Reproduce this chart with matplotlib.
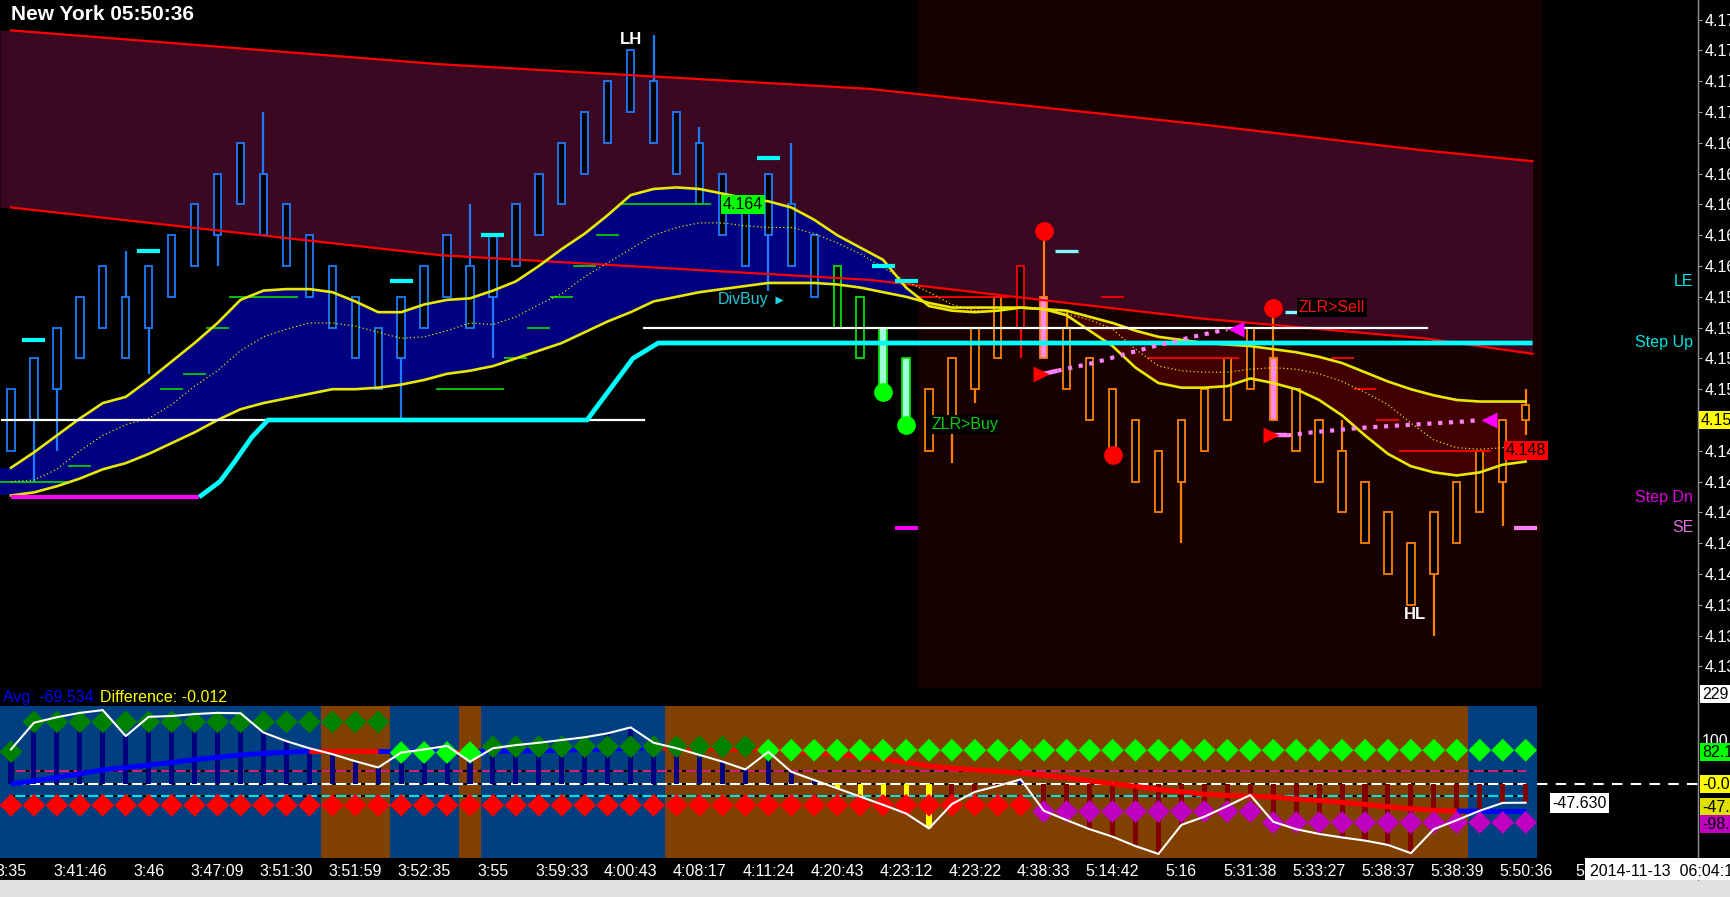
"""
Range-bar chart with trend envelope, channel and oscillator panel (New York session).
"""
import matplotlib
matplotlib.use("Agg")
import matplotlib.pyplot as plt
from matplotlib.lines import Line2D
from matplotlib.patches import Rectangle
import numpy as np

plt.rcParams['font.family'] = ['Liberation Sans', 'DejaVu Sans']

W, H, DPI = 1730, 897, 100

# ---------------- price bars (body top / bottom) ----------------
body_hi = [4.152, 4.154, 4.156, 4.158, 4.160, 4.158, 4.160, 4.162, 4.164, 4.166,
           4.168, 4.166, 4.164, 4.162, 4.160, 4.158, 4.156, 4.158, 4.160, 4.162,
           4.160, 4.162, 4.164, 4.166, 4.168, 4.170, 4.172, 4.174, 4.172, 4.170,
           4.168, 4.166, 4.164, 4.166, 4.164, 4.162, 4.160, 4.158, 4.156, 4.154,
           4.152, 4.154, 4.156, 4.158, 4.160, 4.158, 4.156, 4.154, 4.152, 4.150,
           4.148, 4.150, 4.152, 4.154, 4.156, 4.154, 4.152, 4.150, 4.148, 4.146,
           4.144, 4.142, 4.144, 4.146, 4.148, 4.150, 4.151]
body_lo = [4.148, 4.150, 4.152, 4.154, 4.156, 4.154, 4.156, 4.158, 4.160, 4.162,
           4.164, 4.162, 4.160, 4.158, 4.156, 4.154, 4.152, 4.154, 4.156, 4.158,
           4.156, 4.158, 4.160, 4.162, 4.164, 4.166, 4.168, 4.170, 4.168, 4.166,
           4.164, 4.162, 4.160, 4.162, 4.160, 4.158, 4.156, 4.154, 4.152, 4.150,
           4.148, 4.150, 4.152, 4.154, 4.156, 4.154, 4.152, 4.150, 4.148, 4.146,
           4.144, 4.146, 4.148, 4.150, 4.152, 4.150, 4.148, 4.146, 4.144, 4.142,
           4.140, 4.138, 4.140, 4.142, 4.144, 4.146, 4.150]
wick_up = {5: 4.161, 11: 4.170, 20: 4.164, 28: 4.175, 30: 4.169, 34: 4.168,
           45: 4.1623, 46: 4.157, 55: 4.1573, 58: 4.150, 66: 4.152}
wick_dn = {1: 4.146, 2: 4.148, 6: 4.153, 9: 4.160, 17: 4.150, 21: 4.154, 33: 4.1584,
           41: 4.1472, 42: 4.1511, 44: 4.154, 51: 4.142, 62: 4.136, 65: 4.1431, 66: 4.149}

# ---------------- trend envelope ----------------
fast_ma = [4.1469, 4.1479, 4.1490, 4.1501, 4.1511, 4.1515, 4.1526, 4.1538, 4.1550, 4.1563,
           4.1578, 4.1584, 4.1585, 4.1585, 4.1583, 4.1577, 4.1570, 4.1570, 4.1575, 4.1578,
           4.1579, 4.1584, 4.1590, 4.1600, 4.1611, 4.1621, 4.1633, 4.1646, 4.1650, 4.1651,
           4.1650, 4.1647, 4.1644, 4.1642, 4.1638, 4.1630, 4.1620, 4.1612, 4.1604, 4.1586,
           4.1574, 4.1571, 4.1570, 4.1571, 4.1573, 4.1572, 4.1568, 4.1558, 4.1548, 4.1534,
           4.1524, 4.1521, 4.1521, 4.1522, 4.1527, 4.1524, 4.1520, 4.1513, 4.1503, 4.1490,
           4.1478, 4.1470, 4.1466, 4.1464, 4.1466, 4.1471, 4.1473]
slow_ma = [4.1451, 4.1453, 4.1457, 4.1462, 4.1468, 4.1472, 4.1478, 4.1485, 4.1492, 4.1500,
           4.1507, 4.1511, 4.1514, 4.1517, 4.1520, 4.1520, 4.1521, 4.1523, 4.1526, 4.1530,
           4.1532, 4.1535, 4.1540, 4.1545, 4.1550, 4.1557, 4.1564, 4.1570, 4.1577, 4.1580,
           4.1583, 4.1585, 4.1587, 4.1589, 4.1589, 4.1589, 4.1588, 4.1586, 4.1583, 4.1580,
           4.1576, 4.1573, 4.1573, 4.1573, 4.1573, 4.1572, 4.1571, 4.1567, 4.1563, 4.1558,
           4.1554, 4.1552, 4.1550, 4.1549, 4.1548, 4.1546, 4.1544, 4.1541, 4.1537, 4.1531,
           4.1525, 4.1520, 4.1516, 4.1513, 4.1512, 4.1512, 4.1512]
mid_ma = [4.1460, 4.1461, 4.1468, 4.1480, 4.1490, 4.1497, 4.1501, 4.1510, 4.1522, 4.1532,
          4.1545, 4.1554, 4.1559, 4.1563, 4.1563, 4.1561, 4.1557, 4.1553, 4.1554, 4.1558,
          4.1563, 4.1562, 4.1567, 4.1575, 4.1582, 4.1593, 4.1602, 4.1611, 4.1620, 4.1625,
          4.1628, 4.1628, 4.1626, 4.1625, 4.1625, 4.1621, 4.1615, 4.1608, 4.1599, 4.1590,
          4.1583, 4.1575, 4.1571, 4.1571, 4.1573, 4.1572, 4.1569, 4.1565, 4.1559, 4.1546,
          4.1535, 4.1532, 4.1531, 4.1531, 4.1533, 4.1534, 4.1533, 4.1530, 4.1525, 4.1518,
          4.1510, 4.1498, 4.1487, 4.1482, 4.1481, 4.1482, 4.1485]

# regression channel
chan_x = [0, 18.7, 37.4, 51.8, 61.6, 66.3]
chan_top = [4.1753, 4.1731, 4.1715, 4.1692, 4.1675, 4.1668]
chan_bot = [4.1638, 4.1607, 4.1591, 4.1566, 4.1553, 4.1543]

# step lines
step_dn_x = [0, 8.2]
step_dn_y = [4.145, 4.145]
step_up_x = [8.2, 9.1, 9.7, 10.5, 11.2, 25.1, 27.1, 28.2, 66.3]
step_up_y = [4.145, 4.146, 4.1472, 4.1489, 4.150, 4.150, 4.154, 4.155, 4.155]
white_lvl_x = [[-0.4, 27.6], [27.6, 61.7]]
white_lvl_y = [4.150, 4.156]

# trailing stop segments (first bar, last bar, price)
green_trail = [(0, 2, 4.146), (3, 3, 4.147), (7, 7, 4.152), (8, 8, 4.153), (9, 9, 4.156),
               (10, 12, 4.158), (19, 21, 4.152), (22, 22, 4.154), (23, 23, 4.156),
               (24, 24, 4.158), (25, 25, 4.160), (26, 26, 4.162), (27, 30, 4.164)]
red_trail = [(40, 43, 4.158), (48, 48, 4.158), (50, 53, 4.154), (58, 58, 4.154),
             (59, 59, 4.152), (60, 60, 4.150), (61, 64, 4.148)]

# entry markers
le_bars = [1, 6, 17, 21, 33, 38, 39]
le_price = [4.1552, 4.1610, 4.1590, 4.1620, 4.1670, 4.1600, 4.1590]
le2_bars = [46, 56]
le2_price = [4.1610, 4.1570]
red_dot_bars = [45, 48, 55]
red_dot_price = [4.1623, 4.1477, 4.1573]
green_dot_bars = [38, 39]
green_dot_price = [4.1518, 4.1497]

# ZLR projections
zlr1_x = [45.0, 45.6, 47.15, 48.6, 50.1, 51.5, 53.0]
zlr1_y = [4.1530, 4.1532, 4.1537, 4.1543, 4.1549, 4.1554, 4.1559]
zlr2_x = [55.0, 55.6, 56.7, 58.9, 61.1, 63.3, 64.0]
zlr2_y = [4.1490, 4.1490, 4.1492, 4.1495, 4.1497, 4.1499, 4.1500]

# ---------------- oscillator panel ----------------
osc = [88, 156, 170, 181, 188, 122, 171, 173, 178, 181,
       180, 131, 109, 91, 76, 58, 42, 80, 88, 97,
       57, 91, 99, 105, 112, 119, 129, 144, 105, 91,
       74, 57, 37, 82, 31, 10, -11, -32, -53, -75,
       -113, -51, -20, -5, 12, -68, -92, -115, -134, -158,
       -178, -104, -83, -56, -28, -96, -115, -127, -136, -144,
       -155, -176, -115, -92, -68, -48, -47.6]
osc_avg = [0, 8, 17, 26, 36, 42, 48, 55, 62, 68,
           74, 78, 81, 83, 83, 83, 83, 83, 83, 82,
           82, 83, 84, 85, 86, 88, 89, 91, 92, 91,
           91, 89, 88, 87, 84, 80, 76, 70, 64, 55,
           46, 40, 36, 32, 28, 22, 16, 8, 1, -6,
           -14, -20, -26, -29, -31, -33, -38, -42, -47, -52,
           -58, -63, -67, -69, -69.5, -69.5, -69.5]
regime = [1] * 14 + [0] * 3 + [1] * 3 + [0] + [1] * 8 + [0] * 35 + [1] * 3
top_diamond = [82] + [158] * 16 + [80] * 4 + [95] * 12 + [86] * 34
top_diamond_bright = [0] * 17 + [1] * 4 + [0] * 12 + [1] * 34
low_diamond = [-54] * 45 + [-70] * 10 + [-98] * 12
low_diamond_magenta = [0] * 45 + [1] * 22
ref_levels = [33, 0, -31]

time_bars = list(range(0, 67, 3))
time_labels = ['3:35', '3:41:46', '3:46', '3:47:09', '3:51:30', '3:51:59', '3:52:35',
               '3:55', '3:59:33', '4:00:43', '4:08:17', '4:11:24', '4:20:43', '4:23:12',
               '4:23:22', '4:38:33', '5:14:42', '5:16', '5:31:38', '5:33:27', '5:38:37',
               '5:38:39', '5:50:36']
price_ticks = [round(4.176 - 0.002 * k, 3) for k in range(22)]
last_price = 4.150

n = len(body_hi)
idx = np.arange(n)
XL = (-0.48, 73.51)


def fx(px):
    return px / W


def fy(py):
    return 1 - py / H


fig = plt.figure(figsize=(W / DPI, H / DPI), dpi=DPI, facecolor='black')

# ================= main price panel =================
ax = fig.add_axes([0, fy(688), fx(1698), 688 / H])
ax.set_facecolor('black')
ax.set_xlim(*XL)
ax.set_ylim(4.13260, 4.17727)

# late session shading
ax.axvspan(39.5, 66.7, color='#170000', lw=0, zorder=0)

# channel (fill runs to the left edge)
ax.fill_between([XL[0]] + chan_x, [chan_top[0]] + chan_top, [chan_bot[0]] + chan_bot,
                color='#3a0820', lw=0, zorder=1)

# envelope fill
f = np.array(fast_ma)
s = np.array(slow_ma)
ax.fill_between([XL[0], 0], [f[0], f[0]], [s[0], s[0]], color='#000080', lw=0, zorder=2)
ax.fill_between(idx, f, s, where=f >= s, interpolate=True, color='#000080', lw=0, zorder=2)
ax.fill_between(idx, f, s, where=f < s, interpolate=True, color='#400000', lw=0, zorder=2)

# candles
edge = ['#1e7bff' if i <= 35 else ('#00e000' if i <= 39 else '#ff8000') for i in idx]
edge[44] = '#ff0000'
face = ['black'] * n
face[38] = face[39] = '#9effd8'
face[45] = face[55] = '#ff88ee'
for i, top in wick_up.items():
    ax.vlines(i, body_hi[i], top, color=edge[i], lw=1.6, zorder=3)
for i, bot in wick_dn.items():
    ax.vlines(i, bot, body_lo[i], color=edge[i], lw=1.6, zorder=3)
heights = np.array(body_hi) - np.array(body_lo)
ax.bar(idx, heights, bottom=body_lo, width=0.32, color=face, edgecolor=edge,
       linewidth=1.3, zorder=3.5)

# trailing stops
for a, b, p in green_trail:
    ax.hlines(p, a - 0.5, b + 0.5, color='#00d000', lw=1.3, zorder=4)
for a, b, p in red_trail:
    ax.hlines(p, a - 0.5, b + 0.5, color='#ff0000', lw=1.3, zorder=4)

# lines
ax.plot(chan_x, chan_top, color='#ff0000', lw=1.6, zorder=5)
ax.plot(chan_x, chan_bot, color='#ff0000', lw=1.6, zorder=5)
ax.plot(idx, mid_ma, color='#e0e000', lw=0.9, ls=(0, (1, 2)), zorder=5)
ax.plot(idx, fast_ma, color='#e8e800', lw=1.9, zorder=5)
ax.plot(idx, slow_ma, color='#e8e800', lw=1.9, zorder=5)
for xs, p in zip(white_lvl_x, white_lvl_y):
    ax.plot(xs, [p, p], color='white', lw=1.6, zorder=6)
ax.plot(step_dn_x, step_dn_y, color='#ff00ff', lw=3, zorder=6, solid_capstyle='butt')
ax.plot(step_up_x, step_up_y, color='#00ffff', lw=3.4, zorder=6, solid_capstyle='butt')

# entry dashes
for b, p in zip(le_bars, le_price):
    ax.hlines(p, b - 0.5, b + 0.5, color='#00ffff', lw=3, zorder=7)
for b, p in zip(le2_bars, le2_price):
    ax.hlines(p, b - 0.5, b + 0.5, color='#80ffff', lw=2.4, zorder=7)
ax.hlines(4.143, 38.5, 39.5, color='#ff00ff', lw=3, zorder=7)
ax.hlines(4.143, 65.5, 66.5, color='#ff80ff', lw=3, zorder=7)

# ZLR projections
for zx, zy in [(zlr1_x, zlr1_y), (zlr2_x, zlr2_y)]:
    ax.plot(zx[:2], zy[:2], color='#ff80ff', lw=3.2, zorder=7, solid_capstyle='butt')
    ax.plot(zx[1:], zy[1:], color='#ff80ff', lw=3, ls=(0, (1, 1.6)), zorder=7)
    ax.plot(zx[0] - 0.1, zy[0], marker='>', color='#ff0000', ms=11, mec='none', zorder=8)
    ax.plot(zx[-1] + 0.4, zy[-1], marker='<', color='#ff00ff', ms=11, mec='none', zorder=8)

ax.plot(red_dot_bars, red_dot_price, 'o', color='#ff0000', ms=13.5, mec='none', zorder=9)
ax.plot(green_dot_bars, green_dot_price, 'o', color='#00ff00', ms=13.5, mec='none', zorder=9)

# annotations
ax.text(27, 4.1747, 'LH', color='white', fontsize=12, fontweight='bold',
        ha='center', va='center', zorder=10)
ax.text(61.2, 4.1374, 'HL', color='white', fontsize=12, fontweight='bold',
        ha='center', va='center', zorder=10)
ax.text(31.9, 4.1640, '4.164', color='black', fontsize=11.5, ha='center', va='center',
        bbox=dict(boxstyle='square,pad=0.12', fc='#00ff00', ec='none'), zorder=10)
ax.text(66.0, 4.1480, '4.148', color='black', fontsize=11.5, ha='center', va='center',
        bbox=dict(boxstyle='square,pad=0.12', fc='#ff0000', ec='none'), zorder=10)
ax.text(30.8, 4.1578, 'DivBuy', color='#20c8d8', fontsize=11.5, ha='left', va='center',
        zorder=10)
ax.plot(33.45, 4.1578, marker='>', color='#20d8e8', ms=6, mec='none', zorder=10)
ax.text(40.1, 4.1497, 'ZLR>Buy', color='#10c810', fontsize=11.5, ha='left', va='center',
        bbox=dict(boxstyle='square,pad=0.12', fc='black', ec='none'), zorder=10)
ax.text(56.1, 4.1573, 'ZLR>Sell', color='#ff1010', fontsize=11.5, ha='left', va='center',
        bbox=dict(boxstyle='square,pad=0.12', fc='black', ec='none'), zorder=8.5)

side_labels = [('LE', 4.1590, '#00e5e5'), ('Step Up', 4.1550, '#00e5e5'),
               ('Step Dn', 4.1450, '#e000e0'), ('SE', 4.1430, '#e070e0')]
for txt, p, c in side_labels:
    ax.text(73.3, p, txt, color=c, fontsize=11.5, ha='right', va='center', zorder=10)

ax.yaxis.tick_right()
ax.set_yticks(price_ticks)
ax.set_yticklabels(['' if p == last_price else f'{p:.3f}' for p in price_ticks])
ax.tick_params(axis='y', colors='white', labelsize=11.5, length=3, pad=2, color='#a0a0a0')
ax.set_xticks([])
for sp in ['left', 'top', 'bottom']:
    ax.spines[sp].set_visible(False)
ax.spines['right'].set_color('#909090')

fig.text(fx(11), fy(14.5), 'New York 05:50:36', color='white', fontsize=15,
         fontweight='bold', ha='left', va='center')
fig.text(fx(1701), fy(420), f'{last_price:.3f}', color='black', fontsize=11.5, ha='left',
         va='center', bbox=dict(boxstyle='square,pad=0.1', fc='#ffff00', ec='none'))

# ================= oscillator panel =================
ax2 = fig.add_axes([0, fy(858), fx(1698), 152 / H])
ax2.set_facecolor('black')
ax2.set_xlim(*XL)
ax2.set_ylim(-188.3, 198.5)

bg_cols = ['#004080' if r else '#804000' for r in regime]
ax2.bar(idx, 400, bottom=-200, width=1.0, color=bg_cols, lw=0, zorder=0)

ref_cols = ['#d0207a', 'white', '#00e0e0']
for lv, c in zip(ref_levels, ref_cols):
    ax2.hlines(lv, 0, n - 1, color=c, lw=1.5, zorder=1)
    ax2.hlines(lv, 0, n - 1, color='black', lw=1.5, ls=(0, (2, 5)), zorder=1)
ax2.plot([n - 0.5, 76], [0, 0], color='white', lw=1.5, ls=(0, (5, 4)), clip_on=False,
         zorder=1)

hist_cols = ['#000080' if v > 0 else '#800000' for v in osc]
for i in range(36, 41):
    hist_cols[i] = '#ffff00'
ax2.bar(idx, osc, width=0.22, color=hist_cols, lw=0, zorder=2)

for i in range(n - 1):
    c = '#0000ff' if regime[i + 1] else '#ff0000'
    ax2.plot([i, i + 1], [osc_avg[i], osc_avg[i + 1]], color=c, lw=3.6,
             solid_capstyle='butt', zorder=3)

top_cols = ['#00ff00' if b else '#008000' for b in top_diamond_bright]
low_cols = ['#c000c0' if m else '#ff0000' for m in low_diamond_magenta]
ax2.scatter(idx, top_diamond, marker='D', s=135, c=top_cols, lw=0, zorder=4)
ax2.scatter(idx, low_diamond, marker='D', s=135, c=low_cols, lw=0, zorder=4)
ax2.plot(idx, osc, color='white', lw=1.5, zorder=5)

ax2.set_xticks(time_bars)
ax2.set_xticklabels(time_labels)
ax2.tick_params(axis='x', colors='white', labelsize=11.5, length=0, pad=4)
ax2.set_yticks([])
for sp in ['left', 'top', 'bottom']:
    ax2.spines[sp].set_visible(False)
ax2.spines['right'].set_color('#909090')

fig.text(fx(3), fy(697), 'Avg: -69.534', color='#0000ff', fontsize=11.5, ha='left',
         va='center')
fig.text(fx(100), fy(697), 'Difference: -0.012', color='#ffff00', fontsize=11.5,
         ha='left', va='center')

fig.text(fx(1702), fy(741), '100', color='white', fontsize=11.5, ha='left', va='center')
osc_labels = [('229', 694, 'white'), ('82.1', 752, '#00ff00'), ('-0.0', 784, '#ffff00'),
              ('-47.', 807, '#e0e000'), ('-98.', 824, '#c000c0')]
for txt, py, c in osc_labels:
    fig.text(fx(1702), fy(py), txt, color='black', fontsize=11.5, ha='left', va='center',
             bbox=dict(boxstyle='square,pad=0.1', fc=c, ec='none'))
fig.text(fx(1552), fy(803), '-47.630', color='black', fontsize=11.5, ha='left',
         va='center', bbox=dict(boxstyle='square,pad=0.15', fc='white', ec='none'))

fig.add_artist(Line2D([fx(1698), fx(1698)], [fy(880), 1], color='#909090', lw=1))

# time axis extras
fig.text(fx(1575), fy(871), '5', color='white', fontsize=11.5, ha='left', va='center')
fig.patches.append(Rectangle((fx(1585), fy(880)), fx(145), 22 / H,
                             transform=fig.transFigure, fc='white', ec='none', zorder=5))
fig.text(fx(1590), fy(871), '2014-11-13  06:04:1', color='black', fontsize=11.5,
         ha='left', va='center', zorder=6)
fig.patches.append(Rectangle((0, 0), 1, 17 / H, transform=fig.transFigure,
                             fc='#e2e2e2', ec='none'))

fig.savefig('out.png', dpi=DPI, facecolor='black')
